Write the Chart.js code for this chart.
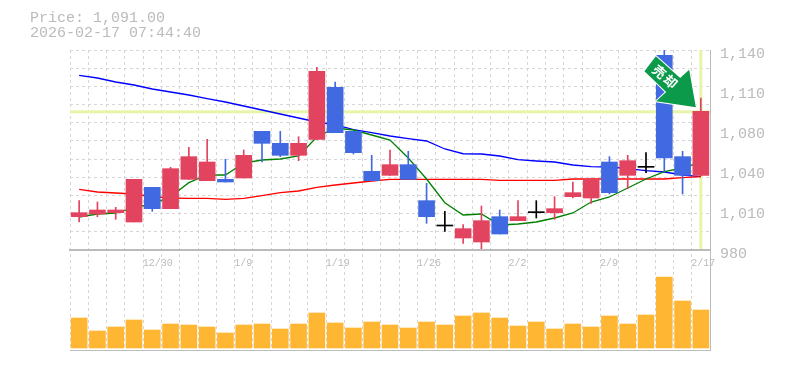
<!DOCTYPE html>
<html>
<head>
<meta charset="utf-8">
<style>
    body { margin: 0; background: #fff; }
    #wrap { width: 785px; height: 370px; }
</style>
<script src="https://cdn.jsdelivr.net/npm/chart.js@4/dist/chart.umd.min.js"></script>
</head>
<body>
<div id="wrap"><canvas id="chart" width="785" height="370"></canvas></div>
<script>
const titleLines = ["Price: 1,091.00", "2026-02-17 07:44:40"];
const currentPrice = 1091;

const dates = [
    "12/24", "12/25", "12/26", "12/29", "12/30",
    "1/5", "1/6", "1/7", "1/8", "1/9",
    "1/13", "1/14", "1/15", "1/16", "1/19",
    "1/20", "1/21", "1/22", "1/23", "1/26",
    "1/27", "1/28", "1/29", "1/30", "2/2",
    "2/3", "2/4", "2/5", "2/6", "2/9",
    "2/10", "2/12", "2/13", "2/16", "2/17"
];
const dateTickLabels = ["12/30", "1/9", "1/19", "1/26", "2/2", "2/9", "2/17"];

const opens = [1012, 1014, 1015, 1008, 1034, 1018, 1040, 1039, 1040, 1041, 1076, 1067, 1058, 1070, 1109, 1076, 1046, 1043, 1051, 1024, 1005, 996, 993, 1012, 1009, 1015, 1015, 1027, 1026, 1053, 1043, 1049, 1133, 1057, 1043];
const closes = [1015, 1017, 1017, 1040, 1018, 1048, 1057, 1053, 1038, 1058, 1067, 1058, 1067, 1121, 1075, 1060, 1039, 1051, 1040, 1012, 1005, 1003, 1009, 999, 1012, 1015, 1018, 1030, 1040, 1030, 1054, 1049, 1056, 1043, 1091];
const highs = [1024, 1023, 1019, 1040, 1034, 1049, 1064, 1070, 1055, 1062, 1076, 1076, 1072, 1124, 1113, 1076, 1058, 1062, 1061, 1037, 1016, 1006, 1020, 1017, 1024, 1024, 1027, 1038, 1041, 1057, 1058, 1060, 1137, 1061, 1101];
const lows = [1008, 1012, 1010, 1008, 1016, 1018, 1040, 1039, 1038, 1041, 1053, 1057, 1054, 1070, 1075, 1059, 1039, 1043, 1040, 1007, 1001, 992, 988, 999, 1009, 1011, 1010, 1026, 1022, 1029, 1033, 1045, 1046, 1029, 1043];

const maShort = [1011.75, 1014, 1014.75, 1018.75, 1021.5, 1027, 1037.5, 1043.25, 1043.25, 1052.25, 1054.5, 1055.25, 1057.5, 1071.75, 1078.5, 1077, 1073.25, 1069.5, 1056, 1040.25, 1022.5, 1013.25, 1014, 1005.75, 1006.5, 1008, 1011, 1014.75, 1023, 1026.75, 1033.5, 1040.25, 1045.75, 1048.5, 1053];
const maMid = [1032.5, 1030.5, 1029.75, 1029, 1027, 1026, 1025.75, 1025.75, 1025, 1025.75, 1027.75, 1030, 1031.25, 1034, 1035.75, 1037.25, 1038.75, 1040, 1040, 1040, 1040, 1040, 1040, 1039.25, 1039.25, 1039.25, 1039.25, 1040.25, 1040.25, 1040.25, 1040.25, 1040.25, 1040.25, 1041.25, 1042];
const maLong = [1118, 1116, 1113, 1110.75, 1107.75, 1105.5, 1103.25, 1100.6, 1098, 1095, 1092, 1089, 1086, 1083, 1081, 1077.2, 1075, 1072.5, 1070.5, 1068.75, 1062.75, 1059.2, 1059, 1057.5, 1054.75, 1053.75, 1053, 1050.75, 1049.5, 1049.25, 1048, 1046.5, 1045.5, 1043.25, 1042];

const volumes = [30, 17, 21, 28, 18, 24, 23, 21, 15, 23, 24, 19, 24, 35, 25, 20, 26, 23, 20, 26, 23, 32, 35, 30, 22, 26, 19, 24, 21, 32, 24, 33, 71, 47, 38];

const priceMin = 987;
const priceMax = 1137;
const priceTickValues = [1137, 1107, 1077, 1047, 1017, 987];
const priceTickLabels = ["1,140", "1,110", "1,080", "1,040", "1,010", "980"];

const UP = "#e2435f";
const DOWN = "#4169e1";
const DOJI = "#000000";
const GRID = "#d6d6d6";
const AXIS = "#bbbbbb";
const TEXT = "#bbbbbb";
const MARKER = "#e6f5a8";
const MONO = "'Liberation Mono', monospace";

const candleColors = opens.map((o, i) => {
    if (o === closes[i]) return DOJI;
    return closes[i] > o ? UP : DOWN;
});

// price line, today's line and the green arrow
const markers = {
    id: "markers",
    beforeDatasetsDraw(chart) {
        const { ctx, chartArea, scales } = chart;
        const py = scales.y.getPixelForValue(currentPrice);
        const px = scales.x.getPixelForValue(dates.length - 1);
        ctx.save();
        ctx.fillStyle = MARKER;
        ctx.fillRect(chartArea.left, py - 1, chartArea.width, 3);
        ctx.fillRect(px - 1.5, chartArea.top, 3, scales.y.bottom - chartArea.top - 1);
        ctx.restore();
    },
    afterDatasetsDraw(chart) {
        const { ctx, scales } = chart;
        const tipX = scales.x.getPixelForValue(dates.length - 1) - 5;
        const tipY = scales.y.getPixelForValue(currentPrice) - 4;
        const shape = [[0, 0], [-6.7, -37.7], [-15.7, -29.4], [-40, -51], [-51.4, -36], [-29.7, -15.4], [-39.7, -6]];
        ctx.save();
        ctx.translate(tipX, tipY);
        ctx.beginPath();
        shape.forEach((p, i) => i ? ctx.lineTo(p[0], p[1]) : ctx.moveTo(p[0], p[1]));
        ctx.closePath();
        ctx.lineWidth = 2;
        ctx.strokeStyle = "#ffffff";
        ctx.stroke();
        ctx.fillStyle = "#0a9a4a";
        ctx.fill();
        ctx.translate(-30, -30);
        ctx.rotate(Math.PI / 4.4);
        ctx.fillStyle = "#ffffff";
        ctx.font = "bold 13px 'Noto Sans CJK JP'";
        ctx.letterSpacing = "2px";
        ctx.textAlign = "center";
        ctx.textBaseline = "middle";
        ctx.fillText("売却", 0, 0);
        ctx.restore();
    }
};

function gridAndLabelTicks(scale) {
    const ticks = [];
    for (let i = 0; i <= 11; i++) {
        ticks.push({ value: priceMax - i * (priceMax - priceMin) / 11, onGrid: true });
    }
    priceTickValues.forEach((v, i) => {
        const found = ticks.find(t => Math.abs(t.value - v) < 0.01);
        if (found) found.text = priceTickLabels[i];
        else ticks.push({ value: v, onGrid: false, text: priceTickLabels[i] });
    });
    scale.ticks = ticks.sort((a, b) => a.value - b.value);
}

new Chart(document.getElementById("chart"), {
    data: {
        labels: dates,
        datasets: [
            { type: "bar", data: opens.map((o, i) => [o, closes[i]]), backgroundColor: candleColors, barThickness: 16, minBarLength: 1, grouped: false, order: 1, yAxisID: "y" },
            { type: "bar", data: lows.map((l, i) => [l, highs[i]]), backgroundColor: candleColors, barThickness: 1, grouped: false, order: 2, yAxisID: "y" },
            { type: "line", data: maShort, borderColor: "#008000", borderWidth: 1.3, pointRadius: 0, tension: 0, order: 3, yAxisID: "y" },
            { type: "line", data: maMid, borderColor: "#ff0000", borderWidth: 1.3, pointRadius: 0, tension: 0, order: 3, yAxisID: "y" },
            { type: "line", data: maLong, borderColor: "#0000ff", borderWidth: 1.3, pointRadius: 0, tension: 0, order: 3, yAxisID: "y" },
            { type: "bar", data: volumes, backgroundColor: "#ffb733", barThickness: 16, grouped: false, order: 4, yAxisID: "yVol" }
        ]
    },
    options: {
        responsive: false,
        animation: false,
        layout: { padding: { left: 30, top: 11, right: 0, bottom: 20 } },
        plugins: {
            legend: { display: false },
            tooltip: { enabled: false },
            title: {
                display: true,
                text: titleLines,
                align: "start",
                color: "#bbbbbb",
                font: { family: MONO, size: 15, weight: "normal", lineHeight: 1 },
                padding: { top: 0, bottom: 9 }
            }
        },
        scales: {
            x: {
                position: { y: priceMin },
                offset: true,
                grid: { offset: true, color: GRID, drawTicks: false },
                border: { color: AXIS, width: 2, dash: [3, 3] },
                ticks: {
                    autoSkip: false,
                    maxRotation: 0,
                    align: "start",
                    labelOffset: -9.5,
                    padding: 7,
                    color: TEXT,
                    font: { family: MONO, size: 10 },
                    callback(v, i) {
                        return dateTickLabels.includes(dates[i]) ? dates[i] : "";
                    }
                }
            },
            spacer: {
                position: "left",
                grid: { display: false },
                border: { display: false },
                ticks: { display: false },
                afterFit(scale) { scale.width = 40; }
            },
            y: {
                position: "right",
                stack: "panes",
                stackWeight: 2,
                min: priceMin,
                max: priceMax,
                afterBuildTicks: gridAndLabelTicks,
                afterFit(scale) { scale.width = 75; },
                grid: {
                    drawTicks: false,
                    color: ctx => ctx.tick && ctx.tick.onGrid ? GRID : "rgba(0,0,0,0)"
                },
                border: { color: AXIS, dash: [3, 3] },
                ticks: {
                    autoSkip: false,
                    padding: 10,
                    labelOffset: 4,
                    color: TEXT,
                    font: { family: MONO, size: 15 },
                    callback(v, i, ticks) {
                        return ticks[i].text || "";
                    }
                }
            },
            yVol: {
                position: "right",
                stack: "panes",
                stackWeight: 1,
                min: -2,
                max: 98,
                afterBuildTicks(scale) { scale.ticks = [{ value: -2 }]; },
                afterFit(scale) { scale.width = 75; },
                grid: { drawTicks: false, color: AXIS },
                border: { color: AXIS },
                ticks: { display: false }
            }
        }
    },
    plugins: [markers]
});
</script>
</body>
</html>
